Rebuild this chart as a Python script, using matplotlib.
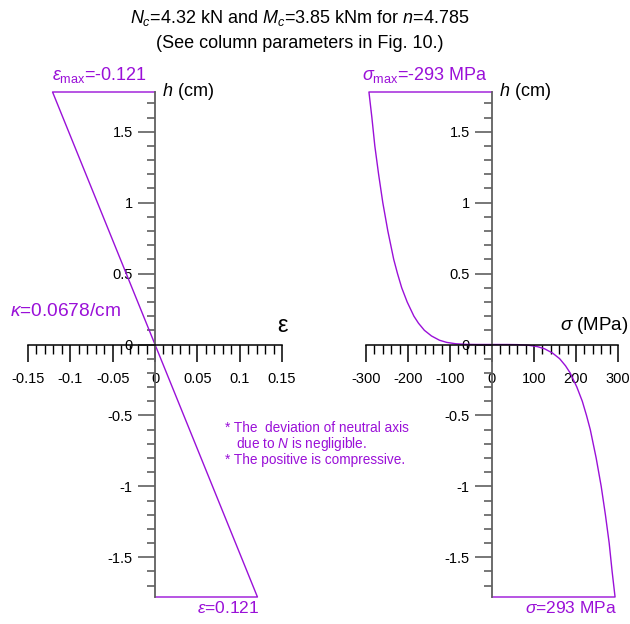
import matplotlib
matplotlib.use("Agg")
import matplotlib.pyplot as plt
from matplotlib.ticker import FixedLocator, FixedFormatter, MultipleLocator

plt.rcParams["font.family"] = ["Liberation Sans", "DejaVu Sans"]
plt.rcParams["mathtext.fontset"] = "custom"
plt.rcParams["mathtext.rm"] = "Liberation Sans"
plt.rcParams["mathtext.it"] = "Liberation Sans:italic"

PURPLE = "#9a10d8"

# strain profile (left panel)
eps_outline = [0.0, -0.121, 0.121, 0.0]
h_eps_outline = [1.78, 1.78, -1.78, -1.78]

# stress profile (right panel)
h_sig = [1.78, 1.6, 1.4, 1.2, 1.0, 0.8, 0.6, 0.5, 0.4, 0.3, 0.2, 0.15, 0.1,
         0.06, 0.03, 0.015, 0.005, 0.001, 0.0001, 0.0,
         -0.0001, -0.001, -0.005, -0.015, -0.03, -0.06, -0.1, -0.15, -0.2,
         -0.3, -0.4, -0.5, -0.6, -0.8, -1.0, -1.2, -1.4, -1.6, -1.78]
sig = [-293, -286, -279, -270, -260, -248, -234, -225, -215, -202, -186, -175, -161,
       -144, -125, -108, -86, -61, -38, 0,
       38, 61, 86, 108, 125, 144, 161, 175, 186,
       202, 215, 225, 234, 248, 260, 270, 279, 286, 293]

eps_ticks = [-0.15, -0.1, -0.05, 0, 0.05, 0.1, 0.15]
eps_labels = ["-0.15", "-0.1", "-0.05", "0", "0.05", "0.1", "0.15"]
sig_ticks = [-300, -200, -100, 0, 100, 200, 300]
sig_labels = ["-300", "-200", "-100", "0", "100", "200", "300"]
h_ticks = [-1.5, -1, -0.5, 0, 0.5, 1, 1.5]
h_labels = ["-1.5", "-1", "-0.5", "0", "0.5", "1", "1.5"]

fig = plt.figure(figsize=(6.3, 6.24), dpi=100)
W, H = 630, 624


def make_axes(x0, x1, xlim, xticks, xlabels, xminor):
    ax = fig.add_axes([x0 / W, 1 - 597 / H, (x1 - x0) / W, (597 - 92) / H])
    ax.set_xlim(*xlim)
    ax.set_ylim(-1.78, 1.78)
    ax.patch.set_visible(False)
    for s in ["top", "right"]:
        ax.spines[s].set_visible(False)
    ax.spines["left"].set_position(("data", 0))
    ax.spines["bottom"].set_position(("data", 0))
    ax.spines["left"].set_color("#606060")
    ax.spines["left"].set_linewidth(1.3)
    ax.spines["bottom"].set_linewidth(1.1)
    ax.xaxis.set_major_locator(FixedLocator(xticks))
    ax.xaxis.set_major_formatter(FixedFormatter(xlabels))
    ax.xaxis.set_minor_locator(MultipleLocator(xminor))
    ax.yaxis.set_major_locator(FixedLocator(h_ticks))
    ax.yaxis.set_major_formatter(FixedFormatter(h_labels))
    ax.yaxis.set_minor_locator(MultipleLocator(0.1))
    ax.tick_params(axis="x", which="major", direction="out", length=12, width=1.1,
                   pad=8, labelsize=10.5)
    ax.tick_params(axis="x", which="minor", direction="out", length=6.5, width=1.0)
    ax.tick_params(axis="y", which="major", direction="out", length=12, width=1.2,
                   color="#606060", pad=4, labelsize=10.5)
    ax.tick_params(axis="y", which="minor", direction="out", length=6, width=1.2,
                   color="#606060")
    return ax


ax1 = make_axes(28, 282, (-0.15, 0.15), eps_ticks, eps_labels, 0.01)
ax1.plot(eps_outline, h_eps_outline, color=PURPLE, lw=1.0, clip_on=False)

ax2 = make_axes(366, 618, (-300, 300), sig_ticks, sig_labels, 20)
ax2.plot([0] + sig + [0], [1.78] + h_sig + [-1.78], color=PURPLE, lw=1.0, clip_on=False)

# titles
fig.text(0.476, 1 - 18 / H, r"$N_c$=4.32 kN and $M_c$=3.85 kNm for $n$=4.785",
         ha="center", va="center", fontsize=13)
fig.text(0.476, 1 - 44 / H, "(See column parameters in Fig. 10.)",
         ha="center", va="center", fontsize=13)

# axis names
fig.text(162 / W, 1 - 91 / H, r"$h$ (cm)", ha="left", va="center", fontsize=13)
fig.text(499 / W, 1 - 91 / H, r"$h$ (cm)", ha="left", va="center", fontsize=13)
fig.text(282 / W, 1 - 326 / H, "ε", ha="center", va="center", fontsize=17)
fig.text(628 / W, 1 - 326 / H, r"$\sigma$ (MPa)", ha="right", va="center", fontsize=13.5)

# annotations
fig.text(52 / W, 1 - 75 / H, r"$\epsilon_{\mathrm{max}}$=-0.121", ha="left", va="center",
         fontsize=13, color=PURPLE)
fig.text(362 / W, 1 - 75 / H, r"$\sigma_{\mathrm{max}}$=-293 MPa", ha="left", va="center",
         fontsize=13, color=PURPLE)
fig.text(10 / W, 1 - 312 / H, r"$\kappa$=0.0678/cm", ha="left", va="center",
         fontsize=13.8, color=PURPLE)
fig.text(197 / W, 1 - 608 / H, r"$\epsilon$=0.121", ha="left", va="center",
         fontsize=12.5, color=PURPLE)
fig.text(525 / W, 1 - 608 / H, r"$\sigma$=293 MPa", ha="left", va="center",
         fontsize=12.5, color=PURPLE)

fig.text(225 / W, 1 - 428 / H, "* The  deviation of neutral axis", ha="left", va="center",
         fontsize=9.8, color=PURPLE)
fig.text(236 / W, 1 - 444 / H, r"due to $N$ is negligible.", ha="left", va="center",
         fontsize=9.8, color=PURPLE)
fig.text(225 / W, 1 - 460 / H, "* The positive is compressive.", ha="left", va="center",
         fontsize=9.8, color=PURPLE)

fig.savefig("out.png", dpi=100)
